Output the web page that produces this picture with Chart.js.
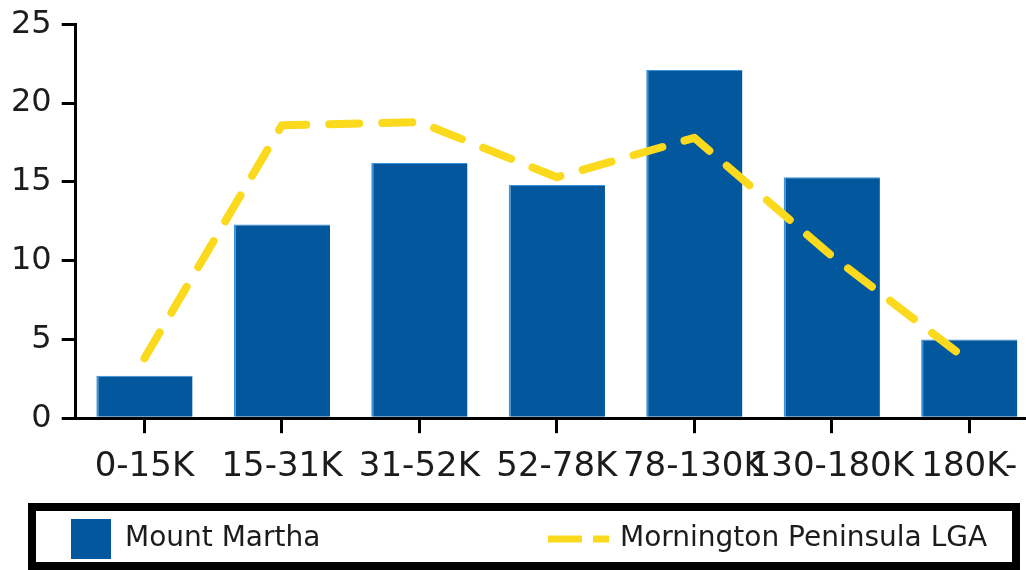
<!DOCTYPE html>
<html>
<head>
<meta charset="utf-8">
<script src="https://cdn.jsdelivr.net/npm/chart.js@4/dist/chart.umd.min.js"></script>
<style>
    html, body { margin: 0; padding: 0; background: #fff; overflow: hidden; }
    #wrap { width: 1038px; height: 570px; }
</style>
</head>
<body>
<div id="wrap"><canvas id="income-chart" width="1038" height="570"></canvas></div>
<script>
// income bands and values (% of households)
const categories = ['0-15K', '15-31K', '31-52K', '52-78K', '78-130K', '130-180K', '180K-'];
const mountMartha = [2.7, 12.3, 16.2, 14.8, 22.1, 15.3, 5.0];
const morningtonLGA = [3.8, 18.6, 18.8, 15.3, 17.8, 10.3, 3.6];
const yTicks = [0, 5, 10, 15, 20, 25];

const BLUE = '#03579c';
const YELLOW = '#fbd91c';
const INK = '#1c1c1c';

// boxed legend along the bottom, like the original
const boxLegend = {
    id: 'boxLegend',
    afterDraw(chart) {
        const ctx = chart.ctx;
        const [bars, line] = chart.data.datasets;
        ctx.save();

        ctx.strokeStyle = '#000';
        ctx.lineWidth = 8;
        ctx.strokeRect(32, 507, 984, 59);

        const midY = 539;
        ctx.font = '28px "DejaVu Sans"';
        ctx.fillStyle = INK;
        ctx.textBaseline = 'middle';

        // bar swatch
        ctx.fillStyle = bars.backgroundColor;
        ctx.fillRect(71, 519, 40, 40);
        ctx.fillStyle = INK;
        ctx.fillText(bars.label, 125, midY);

        // dashed line swatch
        ctx.strokeStyle = line.borderColor;
        ctx.lineWidth = 7;
        ctx.lineCap = 'butt';
        ctx.beginPath();
        ctx.moveTo(548, midY);
        ctx.lineTo(582, midY);
        ctx.moveTo(593, midY);
        ctx.lineTo(609, midY);
        ctx.stroke();
        ctx.fillText(line.label, 620, midY);

        ctx.restore();
    }
};

const ctx = document.getElementById('income-chart').getContext('2d');

new Chart(ctx, {
    type: 'bar',
    data: {
        labels: categories,
        datasets: [
            {
                label: 'Mount Martha',
                data: mountMartha,
                backgroundColor: BLUE,
                borderColor: '#3a93dd',
                borderWidth: { left: 2, top: 1, right: 0, bottom: 0 },
                borderSkipped: false,
                barPercentage: 0.7,
                categoryPercentage: 1,
                order: 1
            },
            {
                type: 'line',
                label: 'Mornington Peninsula LGA',
                data: morningtonLGA,
                borderColor: YELLOW,
                borderWidth: 8,
                borderDash: [30, 23],
                borderCapStyle: 'round',
                borderJoinStyle: 'round',
                tension: 0,
                pointRadius: 0,
                fill: false,
                order: 0
            }
        ]
    },
    options: {
        responsive: false,
        animation: false,
        layout: {
            padding: { top: 0, bottom: 68, left: 1, right: 0 }
        },
        plugins: {
            legend: { display: false },
            tooltip: { enabled: false }
        },
        scales: {
            x: {
                offset: true,
                grid: {
                    offset: false,
                    drawOnChartArea: false,
                    drawTicks: true,
                    tickLength: 15,
                    color: '#000',
                    lineWidth: 3
                },
                border: { display: true, color: '#000', width: 3 },
                ticks: {
                    autoSkip: false,
                    maxRotation: 0,
                    minRotation: 0,
                    padding: 14,
                    color: INK,
                    font: { family: 'DejaVu Sans', size: 34 }
                }
            },
            y: {
                min: 0,
                max: 25,
                afterBuildTicks: (scale) => {
                    scale.ticks = yTicks.map(v => ({ value: v }));
                },
                grid: {
                    drawOnChartArea: false,
                    drawTicks: true,
                    tickLength: 14,
                    color: '#000',
                    lineWidth: 3
                },
                border: { display: true, color: '#000', width: 3 },
                ticks: {
                    padding: 10,
                    color: INK,
                    font: { family: 'DejaVu Sans', size: 32, lineHeight: 0.9 }
                }
            }
        }
    },
    plugins: [boxLegend]
});
</script>
</body>
</html>
